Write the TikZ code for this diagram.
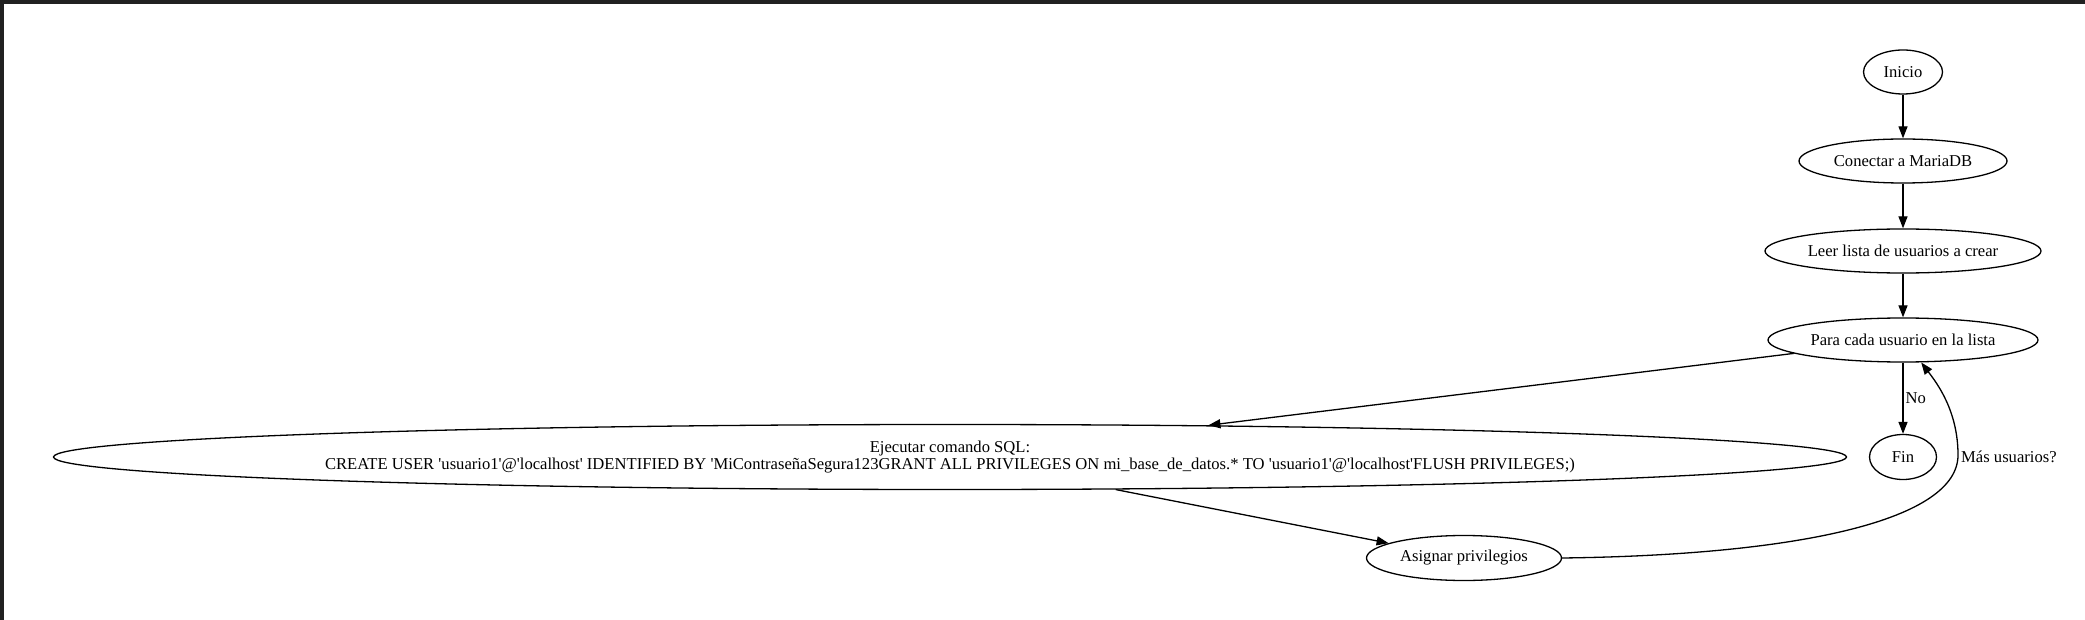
\documentclass[tikz,border=0pt]{standalone}
\usepackage{fontspec}
\newfontfamily\gvfont{Liberation Serif}
\usetikzlibrary{arrows.meta,shapes.geometric}
\begin{document}
\begin{tikzpicture}[x=1pt,y=-1pt,
  nd/.style={draw,ellipse,inner sep=0pt,line width=1.3pt,font=\gvfont\fontsize{16.6}{17.5}\selectfont,align=center,minimum height=44pt},
  arr/.style={line width=1.3pt,-{Triangle[length=12pt,width=9pt]}},
  lbl/.style={font=\gvfont\fontsize{16.6}{17.5}\selectfont,inner sep=0pt,align=center}]
\useasboundingbox (0,0) rectangle (2085,620);
\fill[black!87] (0,0) rectangle (2085,4);
\fill[black!87] (0,0) rectangle (4,620);
\node[nd,minimum width=79pt] (inicio) at (1903,72) {Inicio};
\node[nd,minimum width=208pt] (conectar) at (1903,161) {Conectar a MariaDB};
\node[nd,minimum width=276pt] (leer) at (1903,251) {Leer lista de usuarios a crear};
\node[nd,minimum width=270pt] (para) at (1903,340) {Para cada usuario en la lista};
\node[nd,minimum width=1793pt,minimum height=65pt] (ejec) at (950,457) {};
\node[lbl] (ejectxt) at (ejec.center) {Ejecutar comando SQL:\\CREATE USER 'usuario1'@'localhost' IDENTIFIED BY 'MiContraseñaSegura123GRANT ALL PRIVILEGES ON mi\_base\_de\_datos.* TO 'usuario1'@'localhost'FLUSH PRIVILEGES;)};
\node[nd,minimum width=67pt,minimum height=45pt] (fin) at (1903,457) {Fin};
\node[nd,minimum width=195pt,minimum height=45pt] (asig) at (1464,558) {Asignar privilegios};
\draw[arr] (inicio) -- (conectar);
\draw[arr] (conectar) -- (leer);
\draw[arr] (leer) -- (para);
\draw[arr] (para) -- (ejec);
\draw[arr] (para) -- node[lbl,anchor=west,xshift=2pt] (no) {No} (fin);
\draw[arr] (ejec) -- (asig);
\coordinate (c1) at (1958,455);
\draw[arr] (asig.east) .. controls (1800,555) and (1958,520) .. (c1) .. controls (1958,410) and (1936,382) .. (para.-51);
\node[lbl,anchor=west] (mas) at (1961,457) {Más usuarios?};
\end{tikzpicture}
\end{document}
